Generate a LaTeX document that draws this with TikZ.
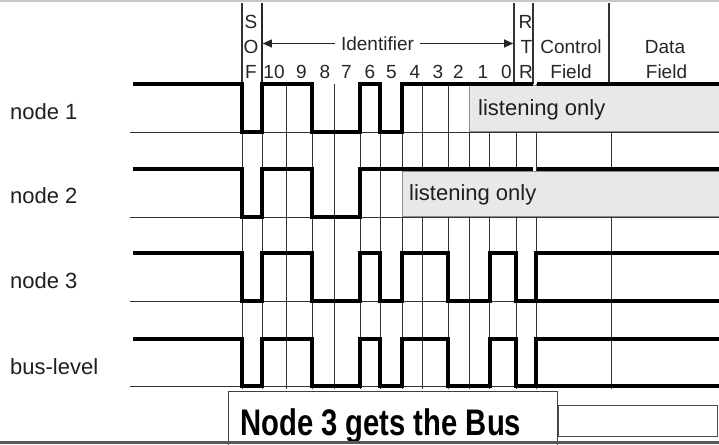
\documentclass[tikz,border=0pt]{standalone}
\usepackage{fontspec}
\usepackage{graphicx}
\setmainfont{Liberation Sans}
\usetikzlibrary{arrows.meta}
\begin{document}
\begin{tikzpicture}[x=1pt,y=-1pt,
  wave/.style={line width=4pt, line join=miter},
  grid/.style={line width=0.9pt, black!80},
  hline/.style={line width=1.1pt, black!80},
  gbox/.style={fill=black!9, draw=black!45, line width=0.6pt},
  hdr/.style={font=\fontsize{19}{19}\selectfont, inner sep=0pt, anchor=base, text=black!85},
  lbl/.style={font=\fontsize{22}{22}\selectfont, inner sep=0pt, anchor=west, text=black!88},
  lst/.style={font=\fontsize{22}{22}\selectfont, inner sep=0pt, anchor=west, text=black!88}]
\useasboundingbox (0,0) rectangle (719,444);
\fill[white] (0,0) rectangle (719,444);
% frame bands
\fill[black!22] (0,0) rectangle (719,2.5);
\fill[black!65] (0,441) rectangle (719,444);
% header vertical lines
\draw[hline] (242,3) -- (242,84);
\draw[line width=1.8pt, black!85] (262,3) -- (262,84);
\draw[hline] (514,3) -- (514,84);
\draw[hline] (533,3) -- (533,84);
\draw[hline] (609,3) -- (609,84);
% grid vertical lines
\foreach \x in {242,262,286,312,334,360,380,402,422,448,469,489,516,536,611}
  \draw[grid] (\x,84) -- (\x,389);
% baselines
\foreach \y in {132,217,301,386}
  \draw[grid] (130,\y) -- (719,\y);
% listening boxes
\draw[gbox] (469,85.5) rectangle (719,131);
\draw[gbox] (402,171) rectangle (719,216);
\node[lst] (l1) at (478,110) {listening only};
\node[lst] (l2) at (409,195) {listening only};
% header text
\node[hdr] (s1) at (251,28.5) {S};
\node[hdr] (s2) at (251,53.5) {O};
\node[hdr] (s3) at (251,78) {F};
\node[hdr] (b10) at (274,78) {10};
\node[hdr] (b9) at (301.5,78) {9};
\node[hdr] (b8) at (325,78) {8};
\node[hdr] (b7) at (346.5,78) {7};
\node[hdr] (b6) at (370,78) {6};
\node[hdr] (b5) at (391.5,78) {5};
\node[hdr] (b4) at (415,78) {4};
\node[hdr] (b3) at (438,78) {3};
\node[hdr] (b2) at (458.5,78) {2};
\node[hdr] (b1) at (483,78) {1};
\node[hdr] (b0) at (506.5,78) {0};
\node[hdr] (r1) at (525.5,28.5) {R};
\node[hdr] (r2) at (526.5,53.5) {T};
\node[hdr] (r3) at (526,78) {R};
\node[hdr] (cf1) at (571,53.5) {Control};
\node[hdr] (cf2) at (571,78) {Field};
\node[hdr] (df1) at (665,53.5) {Data};
\node[hdr] (df2) at (666.5,78) {Field};
\coordinate (aL) at (262.8,43.5);
\coordinate (aR) at (513.2,43.5);
\draw[line width=1pt, black!85, {Triangle[length=9pt,width=8pt]}-{Triangle[length=9pt,width=8pt]}] (aL) -- (aR);
\node[hdr, anchor=center, fill=white, inner xsep=6pt, inner ysep=2pt] (id) at (377.5,44) {Identifier};
% node labels
\node[lbl] (n1) at (10,111.5) {node 1};
\node[lbl] (n2) at (10,196) {node 2};
\node[lbl] (n3) at (10,280.5) {node 3};
\node[lbl] (bl) at (10,366.5) {bus-level};
% waveforms
\draw[wave] (133,84) -- (242,84) -- (242,132) -- (262,132) -- (262,84) -- (312,84) -- (312,132)
  -- (360,132) -- (360,84) -- (380,84) -- (380,132) -- (402,132) -- (402,84) -- (533,84);
\draw[wave] (537,84) -- (719,84);
\draw[wave] (133,169) -- (242,169) -- (242,217) -- (262,217) -- (262,169) -- (312,169) -- (312,217)
  -- (360,217) -- (360,169) -- (533,169);
\draw[wave] (537,169) -- (719,169);
\draw[wave] (133,253) -- (242,253) -- (242,301) -- (262,301) -- (262,253) -- (312,253) -- (312,301)
  -- (360,301) -- (360,253) -- (380,253) -- (380,301) -- (402,301) -- (402,253) -- (448,253)
  -- (448,301) -- (490,301) -- (490,253) -- (516,253) -- (516,301) -- (719,301);
\draw[wave] (536,301) -- (536,253) -- (719,253);
\draw[wave] (133,339) -- (242,339) -- (242,386) -- (262,386) -- (262,339) -- (312,339) -- (312,386)
  -- (360,386) -- (360,339) -- (380,339) -- (380,386) -- (402,386) -- (402,339) -- (448,339)
  -- (448,386) -- (490,386) -- (490,339) -- (516,339) -- (516,386) -- (719,386);
\draw[wave] (536,386) -- (536,339) -- (719,339);
% bottom boxes
\draw[fill=white, draw=black!75, line width=0.9pt] (228,391) rectangle (557,446);
\node[font=\fontsize{37}{37}\selectfont\bfseries, inner sep=0pt, anchor=base west] (win) at (240,435) {\scalebox{0.79}[1]{Node 3 gets the Bus}};
\draw[draw=black!70, line width=0.9pt] (558.5,405.5) rectangle (717,436);
\fill[black!65] (0,441) rectangle (719,444);
\end{tikzpicture}
\end{document}
